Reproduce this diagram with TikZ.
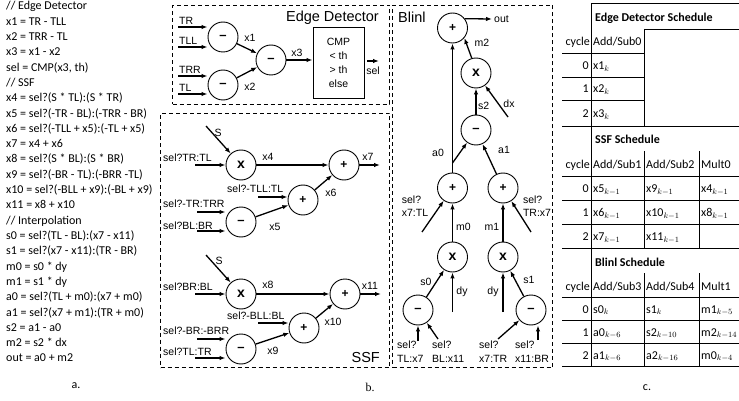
\documentclass[tikz,border=0pt]{standalone}
\usepackage{fontspec}
\setmainfont{Carlito}
\newfontfamily\arialf{Liberation Sans}
\newfontfamily\serff{Liberation Serif}
\usetikzlibrary{arrows.meta}
\newcommand\symMin{{\fontsize{13}{13}\selectfont\textendash}}
\newcommand\symMul{{\fontsize{14}{14}\selectfont x}}
\newcommand\symAdd{{\fontsize{12}{12}\selectfont +}}
\begin{document}
\begin{tikzpicture}[x=1pt,y=-1pt,
  op/.style={circle,draw,line width=0.9pt,minimum size=30pt,inner sep=0pt,font=\arialf\bfseries},
  arr/.style={-{Latex[length=6pt,width=4.5pt]},line width=1.3pt},
  lbl/.style={font=\arialf\fontsize{10.5}{13.4}\selectfont,inner sep=0pt},
  ttl/.style={font=\arialf\fontsize{14.5}{16}\selectfont,inner sep=0pt},
  dbox/.style={draw,line width=1pt,dash pattern=on 4pt off 3pt},
  code/.style={font=\fontsize{12}{14}\selectfont,inner sep=0pt,anchor=base west},
  tab/.style={font=\fontsize{12}{14}\selectfont,inner sep=0pt},
  tline/.style={line width=0.8pt},
]
\useasboundingbox (0,0) rectangle (739,401);

% ---------------- a. code ----------------
\foreach \t [count=\i from 0] in {// Edge Detector, x1 = TR - TLL, x2 = TRR - TL, x3 = x1 - x2, {sel = CMP(x3, th)}, // SSF,
  x4 = sel?(S * TL):(S * TR), x5 = sel?(-TR - BL):(-TRR - BR), x6 = sel?(-TLL + x5):(-TL + x5), x7 = x4 + x6,
  x8 = sel?(S * BL):(S * BR), x9 = sel?(-BR - TL):(-BRR -TL), x10 = sel?(-BLL + x9):(-BL + x9), x11 = x8 + x10,
  // Interpolation, s0 = sel?(TL - BL):(x7 - x11), s1 = sel?(x7 - x11):(TR - BR), m0 = s0 * dy, m1 = s1 * dy,
  a0 = sel?(TL + m0):(x7 + m0), a1 = sel?(x7 + m1):(TR + m0), s2 = a1 - a0, m2 = s2 * dx, out = a0 + m2}
  \node[code] (L\i) at (6,{10+15.3*\i}) {\t};
\node[tab] (capA) at (76,386) {a.};

% ---------------- Edge Detector ----------------
\node[dbox,minimum width=217pt,minimum height=99pt,anchor=north west] (edbox) at (172,5) {};
\node[ttl,anchor=base east] (edT) at (379,22) {Edge Detector};
\node[op] (c1) at (223,37) {\symMin};
\node[op] (c2) at (223,85) {\symMin};
\node[op] (c3) at (271,60) {\symMin};
\coordinate (iTR) at (178,27); \coordinate (iTLL) at (178,47);
\coordinate (iTRR) at (178,76); \coordinate (iTL) at (178,94);
\draw[arr] (iTR) -- (iTR -| c1.west);
\draw[arr] (iTLL) -- (iTLL -| c1.west);
\draw[arr] (iTRR) -- (iTRR -| c2.west);
\draw[arr] (iTL) -- (iTL -| c2.west);
\node[lbl,anchor=base west] (tTR) at (179,25) {TR};
\node[lbl,anchor=base west] (tTLL) at (179,45) {TLL};
\node[lbl,anchor=base west] (tTRR) at (179,74) {TRR};
\node[lbl,anchor=base west] (tTL) at (179,92) {TL};
\draw[arr] (c1) -- (c3);
\draw[arr] (c2) -- (c3);
\node[lbl] (tx1) at (250,38) {x1};
\node[lbl] (tx2) at (250,87) {x2};
\node[draw,line width=0.9pt,minimum width=51pt,minimum height=71pt,inner sep=0pt,align=center,
  font=\arialf\fontsize{10.5}{14}\selectfont] (cmp) at (338.5,62.5) {CMP\\< th\\> th\\else};
\draw[arr] (c3) -- (c3 -| cmp.west);
\node[lbl] (tx3) at (297,53) {x3};
\coordinate (selS) at (367,61); \coordinate (selE) at (379,61);
\draw[arr] (selS) -- (selE);
\node[lbl] (tsel) at (373,71) {sel};

% ---------------- SSF ----------------
\node[dbox,minimum width=229pt,minimum height=254pt,anchor=north west] (ssfbox) at (160,113) {};
\node[ttl,anchor=base east] (ssfT) at (380,362) {SSF};
% upper
\node[op] (m4) at (241,165) {\symMul};
\node[op] (p7) at (344,165) {\symAdd};
\node[op] (p6) at (303,200) {\symAdd};
\node[op] (m5) at (241,222) {\symMin};
\coordinate (sA) at (206,126); \draw[arr] (sA) -- (m4);
\node[lbl] (tS1) at (218,133) {S};
\coordinate (iA) at (195,165); \draw[arr] (iA) -- (iA -| m4.west);
\node[lbl,anchor=base west] (tA) at (163,161) {sel?TR:TL};
\coordinate (iB) at (258,197); \draw[arr] (iB) -- (iB -| p6.west);
\node[lbl,anchor=base west] (tB) at (227,193) {sel?-TLL:TL};
\coordinate (iC) at (197,212); \draw[arr] (iC) -- (iC -| m5.west);
\node[lbl,anchor=base west] (tC) at (163,207) {sel?-TR:TRR};
\coordinate (iD) at (197,231); \draw[arr] (iD) -- (iD -| m5.west);
\node[lbl,anchor=base west] (tD) at (163,229.5) {sel?BL:BR};
\draw[arr] (m4) -- (p7);
\draw[arr] (p6) -- (p7);
\draw[arr] (m5) -- (p6);
\coordinate (o7) at (380,165); \draw[arr] (p7) -- (o7);
\node[lbl] (tx4) at (268,157) {x4};
\node[lbl] (tx7) at (368,157) {x7};
\node[lbl] (tx6) at (331,193) {x6};
\node[lbl] (tx5) at (275,227) {x5};
% lower
\node[op] (m8) at (241,294) {\symMul};
\node[op] (p11) at (345,294) {\symAdd};
\node[op] (p10) at (304,328) {\symAdd};
\node[op] (m9) at (241,349) {\symMin};
\coordinate (sB) at (206,255); \draw[arr] (sB) -- (m8);
\node[lbl] (tS2) at (219,261) {S};
\coordinate (iE) at (195,294); \draw[arr] (iE) -- (iE -| m8.west);
\node[lbl,anchor=base west] (tE) at (163,290) {sel?BR:BL};
\coordinate (iF) at (258,323); \draw[arr] (iF) -- (iF -| p10.west);
\node[lbl,anchor=base west] (tF) at (227,319.5) {sel?-BLL:BL};
\coordinate (iG) at (197,339); \draw[arr] (iG) -- (iG -| m9.west);
\node[lbl,anchor=base west] (tG) at (163,334) {sel?-BR:-BRR};
\coordinate (iH) at (195,358); \draw[arr] (iH) -- (iH -| m9.west);
\node[lbl,anchor=base west] (tH) at (163,355) {sel?TL:TR};
\draw[arr] (m8) -- (p11);
\draw[arr] (p10) -- (p11);
\draw[arr] (m9) -- (p10);
\coordinate (o11) at (381,294); \draw[arr] (p11) -- (o11);
\node[lbl] (tx8) at (268,285) {x8};
\node[lbl] (tx11) at (370,286) {x11};
\node[lbl] (tx10) at (333,322) {x10};
\node[lbl] (tx9) at (273,351) {x9};
\node[font=\serff\fontsize{12}{14}\selectfont,inner sep=0pt] (capB) at (370,387) {b.};

% ---------------- Blinl ----------------
\node[dbox,minimum width=160pt,minimum height=362pt,anchor=north west] (blbox) at (392,5) {};
\node[ttl,anchor=base west] (blT) at (398,23) {Blinl};
\node[op] (ptop) at (452.5,28) {\symAdd};
\node[op] (mul2) at (476,73) {\symMul};
\node[op] (sub2) at (476,130) {\symMin};
\node[op] (pa0) at (452.5,188) {\symAdd};
\node[op] (pa1) at (503,188) {\symAdd};
\node[op] (mul0) at (452.5,257) {\symMul};
\node[op] (mul1) at (503,257) {\symMul};
\node[op] (sub0) at (418,310) {\symMin};
\node[op] (sub1) at (531,310) {\symMin};
\coordinate (oOut) at (492,19); \draw[arr] (ptop.37) -- (oOut);
\node[lbl,anchor=base west] (tout) at (494,22.5) {out};
\draw[arr] (mul2.106) -- (ptop.-40);
\node[lbl] (tm2) at (482,43) {m2};
\draw[arr] (sub2) -- (mul2);
\node[lbl,anchor=west] (ts2) at (478,106) {s2};
\coordinate (dxS) at (508,117); \draw[arr] (dxS) -- (mul2);
\node[lbl] (tdx) at (509,104) {dx};
\draw[arr] (pa0) -- (ptop);
\coordinate (br) at (452.5,163); \draw[arr] (br) -- (sub2);
\node[lbl] (ta0) at (438,153) {a0};
\draw[arr] (pa1) -- (sub2);
\node[lbl] (ta1) at (504,150) {a1};
\coordinate (ix7) at (422,232); \draw[arr] (ix7) -- (pa0);
\node[lbl,align=left] (tx7TL) at (415,206) {sel?\\x7:TL};
\coordinate (iTRx) at (531,232); \draw[arr] (iTRx) -- (pa1);
\node[lbl,align=left] (tTRx7) at (537,206) {sel?\\TR:x7};
\draw[arr] (mul0) -- (pa0);
\node[lbl,anchor=west] (tm0) at (456,227) {m0};
\draw[arr] (mul1) -- (pa1);
\node[lbl] (tm1) at (492,227) {m1};
\draw[arr] (sub0) -- (mul0);
\node[lbl] (ts0) at (426,282) {s0};
\draw[arr] (sub1) -- (mul1);
\node[lbl] (ts1) at (529,280) {s1};
\coordinate (dy0) at (452.5,312); \draw[arr] (dy0) -- (mul0);
\node[lbl] (tdy0) at (462,292) {dy};
\coordinate (dy1) at (503,312); \draw[arr] (dy1) -- (mul1);
\node[lbl] (tdy1) at (493,292) {dy};
\coordinate (b0) at (418,341); \draw[arr] (b0) -- (sub0);
\coordinate (b1) at (438,339); \draw[arr] (b1) -- (sub0);
\coordinate (b2) at (498,339); \draw[arr] (b2) -- (sub1);
\coordinate (b3) at (538,340); \draw[arr] (b3) -- (b3 |- sub1.south);
\node[lbl,align=left,anchor=north west] (tb0) at (397,341) {sel?\\TL:x7};
\node[lbl,align=left,anchor=north west] (tb1) at (432,341) {sel?\\BL:x11};
\node[lbl,align=left,anchor=north west] (tb2) at (479,341) {sel?\\x7:TR};
\node[lbl,align=left,anchor=north west] (tb3) at (515,341) {sel?\\x11:BR};

% ---------------- c. table ----------------
\draw[tline] (591,3.5) -- (739,3.5);
\draw[tline] (591,3.5) -- (591,366.5);
\draw[tline] (644,29) -- (739,29);
\draw[tline] (644,29) -- (644,126);
\foreach \y in {53,77,100.5} \draw[tline] (562,\y) -- (644,\y);
\foreach \y in {126,176,200,224,248,297,320.5,343.5,366.5} \draw[tline] (562,\y) -- (739,\y);
\draw[tline] (644,151) -- (644,248); \draw[tline] (699,151) -- (699,248);
\draw[tline] (644,273) -- (644,366.5); \draw[tline] (699,273) -- (699,366.5);
% section 1
\node[tab,anchor=base west] (h1) at (595,22) {\bfseries Edge Detector Schedule};
\node[tab,anchor=base east] (cy1) at (590,46) {cycle};
\node[tab,anchor=base west] (c1a) at (593,46) {Add/Sub0};
\node[tab,anchor=base east] (r10) at (589,69.5) {0};
\node[tab,anchor=base west] (e10) at (593,69.5) {x1$_{k}$};
\node[tab,anchor=base east] (r11) at (589,93) {1};
\node[tab,anchor=base west] (e11) at (593,93) {x2$_{k}$};
\node[tab,anchor=base east] (r12) at (589,118) {2};
\node[tab,anchor=base west] (e12) at (593,118) {x3$_{k}$};
% section 2
\node[tab,anchor=base west] (h2) at (595,144) {\bfseries SSF Schedule};
\node[tab,anchor=base east] (cy2) at (590,168.5) {cycle};
\node[tab,anchor=base west] (c2a) at (593,168.5) {Add/Sub1};
\node[tab,anchor=base west] (c2b) at (646,168.5) {Add/Sub2};
\node[tab,anchor=base west] (c2c) at (701,168.5) {Mult0};
\node[tab,anchor=base east] (r20) at (589,192.5) {0};
\node[tab,anchor=base west] (e20a) at (593,192.5) {x5$_{k-1}$};
\node[tab,anchor=base west] (e20b) at (646,192.5) {x9$_{k-1}$};
\node[tab,anchor=base west] (e20c) at (701,192.5) {x4$_{k-1}$};
\node[tab,anchor=base east] (r21) at (589,216.5) {1};
\node[tab,anchor=base west] (e21a) at (593,216.5) {x6$_{k-1}$};
\node[tab,anchor=base west] (e21b) at (646,216.5) {x10$_{k-1}$};
\node[tab,anchor=base west] (e21c) at (701,216.5) {x8$_{k-1}$};
\node[tab,anchor=base east] (r22) at (589,240.5) {2};
\node[tab,anchor=base west] (e22a) at (593,240.5) {x7$_{k-1}$};
\node[tab,anchor=base west] (e22b) at (646,240.5) {x11$_{k-1}$};
% section 3
\node[tab,anchor=base west] (h3) at (595,266) {\bfseries Blinl Schedule};
\node[tab,anchor=base east] (cy3) at (590,290) {cycle};
\node[tab,anchor=base west] (c3a) at (593,290) {Add/Sub3};
\node[tab,anchor=base west] (c3b) at (646,290) {Add/Sub4};
\node[tab,anchor=base west] (c3c) at (701,290) {Mult1};
\node[tab,anchor=base east] (r30) at (589,313) {0};
\node[tab,anchor=base west] (e30a) at (593,313) {s0$_{k}$};
\node[tab,anchor=base west] (e30b) at (646,313) {s1$_{k}$};
\node[tab,anchor=base west] (e30c) at (701,313) {m1$_{k-5}$};
\node[tab,anchor=base east] (r31) at (589,336) {1};
\node[tab,anchor=base west] (e31a) at (593,336) {a0$_{k-6}$};
\node[tab,anchor=base west] (e31b) at (646,336) {s2$_{k-10}$};
\node[tab,anchor=base west] (e31c) at (701,336) {m2$_{k-14}$};
\node[tab,anchor=base east] (r32) at (589,359) {2};
\node[tab,anchor=base west] (e32a) at (593,359) {a1$_{k-6}$};
\node[tab,anchor=base west] (e32b) at (646,359) {a2$_{k-16}$};
\node[tab,anchor=base west] (e32c) at (701,359) {m0$_{k-4}$};
\node[tab] (capC) at (647,388) {c.};
\end{tikzpicture}
\end{document}
